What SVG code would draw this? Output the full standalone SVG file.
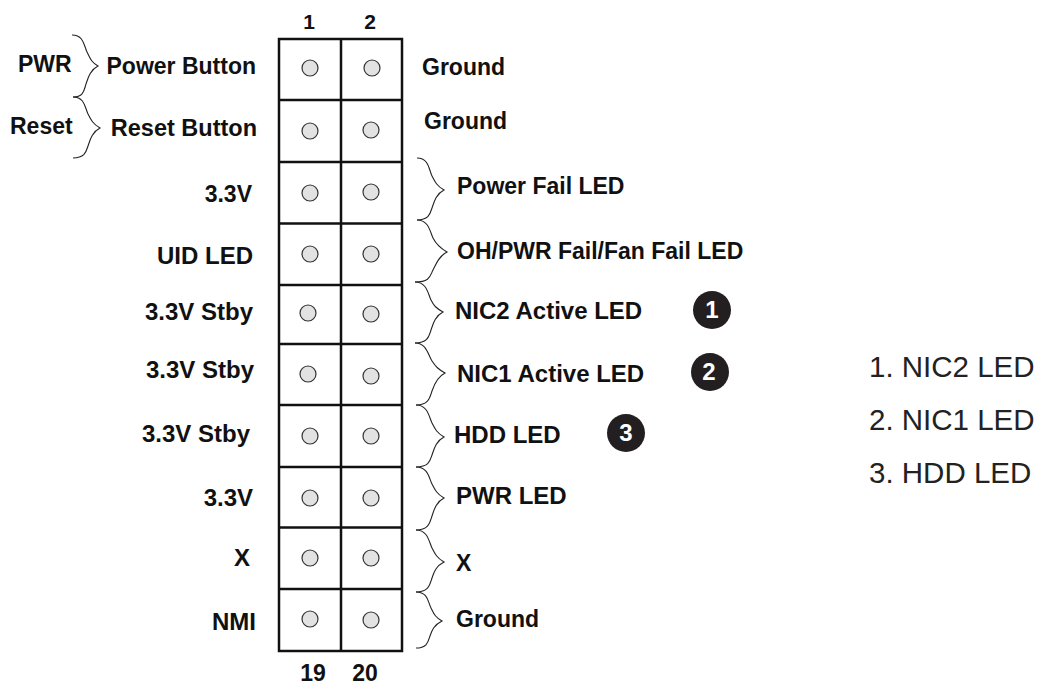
<svg xmlns="http://www.w3.org/2000/svg" width="1039" height="685" viewBox="0 0 1039 685">
<style>
text{font-family:"Liberation Sans",Arial,sans-serif;font-weight:700;font-size:23px;fill:#111}
.m{text-anchor:middle}
.e{text-anchor:end}
.w{font-size:24px}
.t{font-size:21px}
.l{font-weight:400;font-size:29.500px;fill:#222}
.n{fill:#fff;font-size:24px;text-anchor:middle}
.p{fill:#e2e2e2;stroke:#333;stroke-width:1.2}
.g{fill:#fff;stroke:#111;stroke-width:2.5}
.b{fill:none;stroke:#222;stroke-width:1.1}
.d{fill:#231f20}
</style>
<g id="header">
<g id="grid">
<rect class="g" x="279" y="39" width="123" height="612"/>
<path class="g" d="M341 39V651M279 100H402M279 162H402M279 223.500H402M279 285H402M279 344H402M279 405H402M279 467H402M279 527.500H402M279 589H402"/>
</g>
<g id="pins">
<circle class="p" cx="310" cy="68" r="8"/><circle class="p" cx="372" cy="68" r="8"/>
<circle class="p" cx="310" cy="131" r="8"/><circle class="p" cx="371" cy="130" r="8"/>
<circle class="p" cx="310" cy="193" r="8"/><circle class="p" cx="371" cy="192" r="8"/>
<circle class="p" cx="310" cy="254" r="8"/><circle class="p" cx="371" cy="254" r="8"/>
<circle class="p" cx="308" cy="313" r="8"/><circle class="p" cx="371" cy="314" r="8"/>
<circle class="p" cx="308" cy="374" r="8"/><circle class="p" cx="371" cy="376" r="8"/>
<circle class="p" cx="310" cy="436" r="8"/><circle class="p" cx="371" cy="436" r="8"/>
<circle class="p" cx="310" cy="498" r="8"/><circle class="p" cx="371" cy="498" r="8"/>
<circle class="p" cx="310" cy="558" r="8"/><circle class="p" cx="371" cy="558" r="8"/>
<circle class="p" cx="310" cy="619" r="8"/><circle class="p" cx="371" cy="620" r="8"/>
</g>
<text class="m t" x="309" y="29">1</text><text class="m t" x="370" y="29">2</text>
<text class="m" x="313" y="681">19</text><text class="m" x="365" y="681">20</text>
</g>
<g id="connectors">
<path class="b" d="M72 35C84 35 84 46 87 52S91 62 98 66C90 70 88 78 86 84S84 97 73 97"/>
<path class="b" d="M73 97C85 97 85 108 88 114S93 124 100 128C92 132 90 140 88 146S85 158 73 158"/>
<path class="b" d="M417 158C429 158 429 170 432 176S437 186 444 190C436 194 434 202 432 208S429 220 417 220"/>
<path class="b" d="M417 220C429 220 430 232 433 238S440 248 447 252C439 256 436 264 433 270S430 282 415 282"/>
<path class="b" d="M415 282C427 282 428 294 431 300S436 308 443 312C435 316 433 324 431 330S428 343 415 343"/>
<path class="b" d="M415 343C427 343 428 355 432 361S438 369 445 373C437 377 434 385 432 391S429 405 416 405"/>
<path class="b" d="M416 405C428 405 429 417 432 423S437 433 444 437C436 441 434 449 432 455S429 467 416 467"/>
<path class="b" d="M416 467C428 467 429 478 432 484S437 494 444 498C436 502 434 510 432 516S429 530 416 530"/>
<path class="b" d="M416 530C428 530 429 542 432 548S437 558 444 562C436 566 434 572 432 578S429 592 416 592"/>
<path class="b" d="M416 592C428 592 428 602 431 608S435 617 442 621C434 625 432 630 430 636S427 648 416 648"/>
</g>
<g id="left-labels">
<text x="18" y="72">PWR</text><text x="10" y="134">Reset</text>
<text class="e" x="256" y="74">Power Button</text><text class="e" x="257" y="136" style="font-size:23.500px">Reset Button</text>
<text class="e" x="252" y="202">3.3V</text><text class="e w" x="253" y="264">UID LED</text>
<text class="e w" x="253" y="320">3.3V Stby</text><text class="e w" x="254" y="378">3.3V Stby</text>
<text class="e w" x="250" y="442">3.3V Stby</text><text class="e w" x="253" y="506">3.3V</text>
<text class="e w" x="250" y="566">X</text><text class="e w" x="256" y="630">NMI</text>
</g>
<g id="right-labels">
<text x="422" y="75">Ground</text><text x="424" y="129">Ground</text>
<text x="457" y="194">Power Fail LED</text><text x="457" y="259">OH/PWR Fail/Fan Fail LED</text>
<text class="w" x="455" y="319">NIC2 Active LED</text><text class="w" x="457" y="382">NIC1 Active LED</text>
<text class="w" x="454" y="443">HDD LED</text><text class="w" x="456" y="504">PWR LED</text>
<text x="456" y="571">X</text><text x="456" y="627">Ground</text>
</g>
<g id="badge-1"><circle class="d" cx="712" cy="310" r="19"/><text class="n" x="712" y="318">1</text></g>
<g id="badge-2"><circle class="d" cx="710" cy="372" r="19"/><text class="n" x="709" y="380">2</text></g>
<g id="badge-3"><circle class="d" cx="626" cy="433" r="19"/><text class="n" x="626" y="441">3</text></g>
<g id="legend">
<text class="l" x="869" y="377">1. NIC2 LED</text>
<text class="l" x="869" y="430">2. NIC1 LED</text>
<text class="l" x="869" y="483">3. HDD LED</text>
</g>
</svg>
